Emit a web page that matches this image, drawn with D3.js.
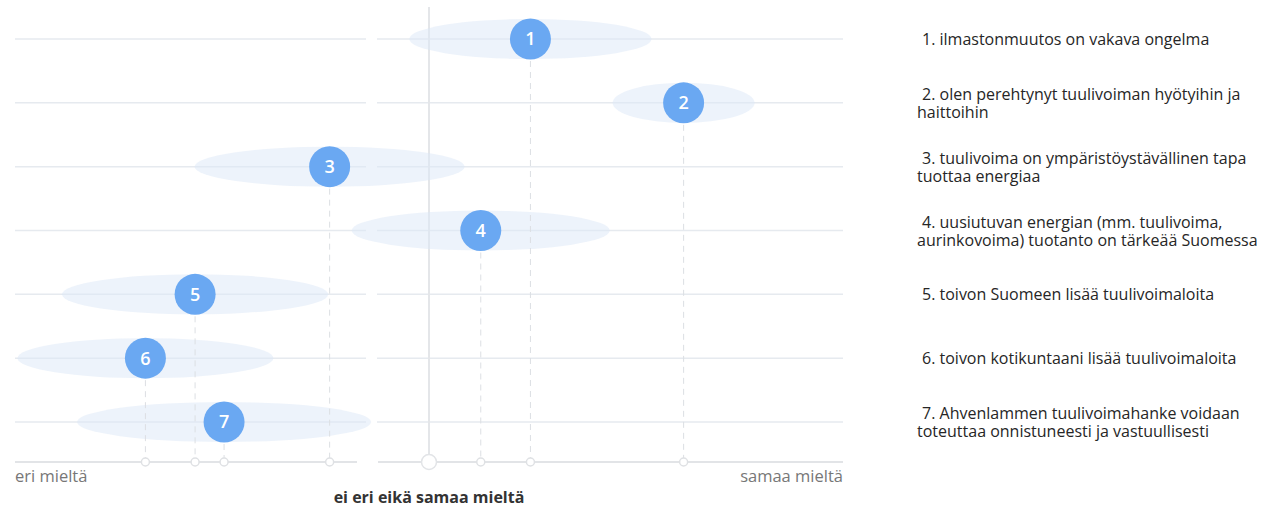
<!DOCTYPE html>
<html><head><meta charset="utf-8">
<script src="https://cdn.jsdelivr.net/npm/d3@7"></script>
<style>
body{margin:0;background:#fff;}
svg{display:block;font-family:"Open Sans",sans-serif;}
</style></head>
<body><svg id="c" width="1287" height="509"></svg>
<script>
const statements = [
  "1. ilmastonmuutos on vakava ongelma",
  "2. olen perehtynyt tuulivoiman hyötyihin ja haittoihin",
  "3. tuulivoima on ympäristöystävällinen tapa tuottaa energiaa",
  "4. uusiutuvan energian (mm. tuulivoima, aurinkovoima) tuotanto on tärkeää Suomessa",
  "5. toivon Suomeen lisää tuulivoimaloita",
  "6. toivon kotikuntaani lisää tuulivoimaloita",
  "7. Ahvenlammen tuulivoimahanke voidaan toteuttaa onnistuneesti ja vastuullisesti"
];
const means  = [3.49, 4.23, 2.52, 3.25, 1.87, 1.63, 2.01];
const spread = [0.585, 0.343, 0.652, 0.623, 0.643, 0.618, 0.71];
const scaleMin = 1, scaleMax = 5, neutral = 3;
const leftLabel = "eri mieltä", rightLabel = "samaa mieltä", midLabel = "ei eri eikä samaa mieltä";

const svg = d3.select("#c");
const x = d3.scaleLinear().domain([scaleMin, scaleMax]).range([15, 843]);
const y = d3.scalePoint().domain(d3.range(statements.length)).range([39, 422]);
const axisY = 462;
const gapL = 366, gapR = 377;

// grid lines
const g = svg.append("g");
y.domain().forEach(i => {
  g.append("line").attr("x1", 15).attr("x2", gapL).attr("y1", y(i)).attr("y2", y(i))
    .attr("stroke", "#e6eaef").attr("stroke-width", 1.5);
  g.append("line").attr("x1", gapR).attr("x2", 843).attr("y1", y(i)).attr("y2", y(i))
    .attr("stroke", "#e6eaef").attr("stroke-width", 1.5);
});
// neutral vertical
g.append("line").attr("x1", x(neutral)).attr("x2", x(neutral)).attr("y1", 7).attr("y2", axisY)
  .attr("stroke", "#e4e6e9").attr("stroke-width", 2);

// ellipses
svg.append("g").selectAll("ellipse").data(means).join("ellipse")
  .attr("cx", d => x(d)).attr("cy", (d, i) => y(i))
  .attr("rx", (d, i) => x(d + spread[i]) - x(d)).attr("ry", 20)
  .attr("fill", "#dbe8f8").attr("fill-opacity", 0.5);

// dashed drop lines
svg.append("g").selectAll("line").data(means).join("line")
  .attr("x1", d => x(d)).attr("x2", d => x(d))
  .attr("y1", (d, i) => y(i)).attr("y2", axisY)
  .attr("stroke", "#dcdfe3").attr("stroke-width", 1).attr("stroke-dasharray", "6,5");

// axis line
svg.append("line").attr("x1", 15).attr("x2", 357).attr("y1", axisY).attr("y2", axisY)
  .attr("stroke", "#e2e4e7").attr("stroke-width", 2);
svg.append("line").attr("x1", 378).attr("x2", 843).attr("y1", axisY).attr("y2", axisY)
  .attr("stroke", "#e2e4e7").attr("stroke-width", 2);
// axis markers
svg.append("g").selectAll("circle").data(means).join("circle")
  .attr("cx", d => x(d)).attr("cy", axisY).attr("r", 4)
  .attr("fill", "#fff").attr("stroke", "#dfe1e4").attr("stroke-width", 1.5);
svg.append("circle").attr("cx", x(neutral)).attr("cy", axisY).attr("r", 7.5)
  .attr("fill", "#fff").attr("stroke", "#e2e4e7").attr("stroke-width", 1.5);

// points
const pts = svg.append("g").selectAll("g").data(means).join("g")
  .attr("transform", (d, i) => `translate(${x(d)},${y(i)})`);
pts.append("circle").attr("r", 20.5).attr("fill", "#6aa8f2");
pts.append("text").attr("text-anchor", "middle").attr("dy", "0.36em")
  .attr("fill", "#fff").attr("font-size", 18).attr("font-weight", 600).text((d, i) => i + 1);

// axis labels
svg.append("text").attr("x", 15).attr("y", 482).attr("font-size", 16.5).attr("fill", "#777").text(leftLabel);
svg.append("text").attr("x", 843).attr("y", 482).attr("text-anchor", "end").attr("font-size", 16.5).attr("fill", "#777").text(rightLabel);
svg.append("text").attr("x", x(neutral)).attr("y", 503).attr("text-anchor", "middle")
  .attr("font-size", 16).attr("font-weight", "bold").attr("fill", "#333").text(midLabel);

// statement legend with wrapping
const maxW = 355, lx = 917, lh = 18, fs = 16;
statements.forEach((s, i) => {
  const words = s.split(" ");
  const t = svg.append("text").attr("font-size", fs).attr("fill", "#262626");
  const lines = [];
  let cur = [];
  const probe = t.append("tspan");
  words.forEach(w => {
    const test = cur.concat(w).join(" ");
    probe.text(test);
    const extra = lines.length === 0 ? 5 : 0;
    if (probe.node().getComputedTextLength() + extra > maxW && cur.length) {
      lines.push(cur.join(" ")); cur = [w];
    } else cur.push(w);
  });
  lines.push(cur.join(" "));
  probe.remove();
  const y0 = y(i) - (lines.length - 1) * lh / 2 + 6;
  lines.forEach((ln, k) => {
    t.append("tspan").attr("x", k === 0 ? lx + 5 : lx).attr("y", y0 + k * lh).text(ln);
  });
});
</script></body></html>
